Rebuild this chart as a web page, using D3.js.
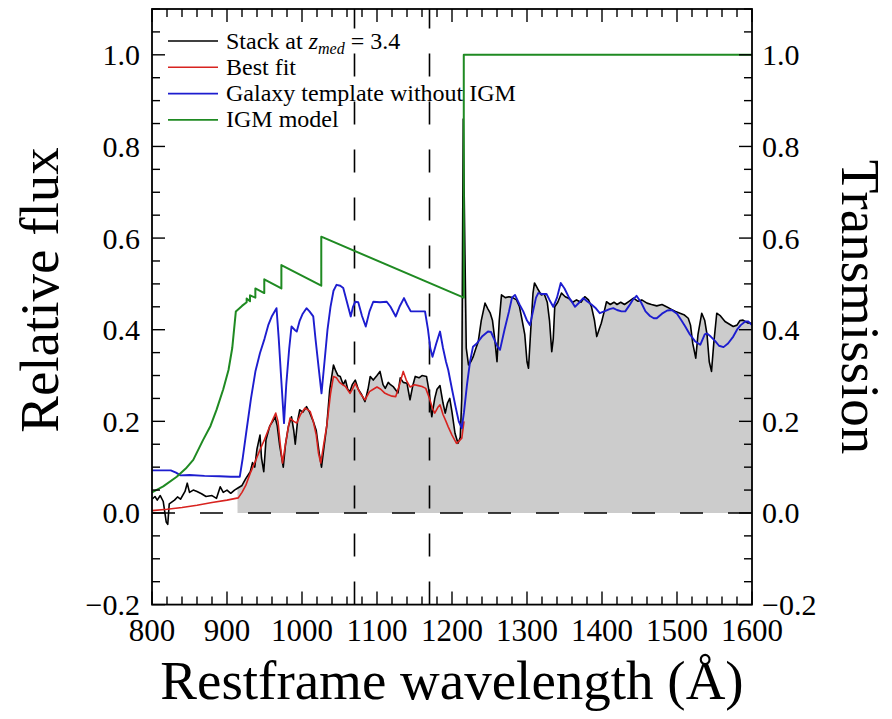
<!DOCTYPE html>
<html>
<head>
<meta charset="utf-8">
<script src="https://cdn.jsdelivr.net/npm/d3@7/dist/d3.min.js"></script>
<style>
  html, body { margin: 0; padding: 0; background: #fff; }
  svg { display: block; }
  text { font-family: "Liberation Serif", "Times New Roman", serif; fill: #000; }
</style>
</head>
<body>
<svg id="chart" width="892" height="719"></svg>
<script>
// Stacked spectrum at z_med = 3.4 : [restframe wavelength (Å), relative flux]
const stackSpectrum = [
  [800,0.03],[804,0.036],[807,0.028],[811,0.038],[815,0.025],[819,-0.02],[821,-0.025],[823,0.02],
  [830,0.028],[834,0.035],[838,0.03],[844,0.047],[847,0.065],[850,0.045],[855,0.05],[860,0.047],
  [866,0.042],[872,0.036],[880,0.038],[886,0.032],[891,0.057],[895,0.045],[900,0.05],[905,0.043],
  [910,0.05],[914,0.054],[920,0.06],[925,0.075],[931,0.09],[934,0.11],[937,0.1],[940,0.14],
  [944,0.17],[946,0.12],[949,0.09],[952,0.16],[957,0.19],[961,0.2],[964,0.21],[967,0.19],
  [970,0.15],[973,0.12],[975,0.1],[978,0.15],[982,0.19],[986,0.21],[989,0.18],[991,0.15],
  [994,0.2],[997,0.225],[1001,0.22],[1006,0.232],[1010,0.22],[1015,0.2],[1019,0.18],[1023,0.13],
  [1026,0.1],[1029,0.14],[1033,0.19],[1037,0.27],[1042,0.323],[1045,0.31],[1048,0.3],[1051,0.298],
  [1055,0.28],[1058,0.29],[1061,0.27],[1064,0.265],[1067,0.28],[1071,0.29],[1075,0.27],[1079,0.26],
  [1084,0.243],[1088,0.27],[1091,0.298],[1095,0.29],[1100,0.3],[1104,0.309],[1108,0.28],[1111,0.272],
  [1115,0.285],[1118,0.28],[1122,0.275],[1128,0.262],[1131,0.295],[1135,0.285],[1140,0.283],[1144,0.247],
  [1148,0.28],[1151,0.298],[1156,0.295],[1160,0.3],[1166,0.298],[1169,0.27],[1173,0.21],[1177,0.25],
  [1180,0.27],[1184,0.278],[1188,0.24],[1191,0.218],[1194,0.24],[1197,0.25],[1200,0.22],[1204,0.174],
  [1208,0.152],[1211,0.165],[1213,0.25],[1215,0.86],[1217,0.6],[1219,0.36],[1222,0.323],[1225,0.33],
  [1228,0.34],[1232,0.36],[1235,0.374],[1239,0.42],[1244,0.458],[1248,0.445],[1251,0.436],[1254,0.42],
  [1257,0.38],[1260,0.33],[1263,0.42],[1266,0.476],[1271,0.47],[1276,0.472],[1281,0.47],[1286,0.465],
  [1290,0.45],[1293,0.425],[1297,0.39],[1300,0.33],[1302,0.316],[1305,0.4],[1308,0.48],[1310,0.502],
  [1314,0.49],[1319,0.476],[1323,0.478],[1327,0.46],[1330,0.42],[1333,0.352],[1335,0.38],[1337,0.45],
  [1341,0.46],[1346,0.48],[1351,0.472],[1356,0.468],[1361,0.46],[1366,0.465],[1372,0.46],[1377,0.472],
  [1382,0.465],[1386,0.45],[1390,0.42],[1393,0.385],[1396,0.4],[1399,0.414],[1403,0.44],[1406,0.461],
  [1411,0.455],[1416,0.46],[1420,0.455],[1425,0.46],[1430,0.455],[1436,0.462],[1442,0.469],[1448,0.462],
  [1453,0.465],[1460,0.458],[1466,0.455],[1473,0.452],[1480,0.455],[1486,0.45],[1492,0.445],[1498,0.44],
  [1504,0.436],[1510,0.432],[1515,0.425],[1518,0.41],[1521,0.37],[1525,0.338],[1528,0.39],[1533,0.436],
  [1537,0.42],[1540,0.39],[1543,0.33],[1546,0.309],[1549,0.37],[1553,0.436],[1558,0.43],[1564,0.418],
  [1570,0.412],[1575,0.407],[1580,0.41],[1584,0.42],[1588,0.421],[1594,0.415],[1600,0.414]
];

// Best-fit model (template attenuated by the IGM)
const bestFit = [
  [800,0.005],[820,0.008],[840,0.012],[860,0.017],[880,0.023],[900,0.028],[915,0.033],[920,0.045],
  [925,0.06],[931,0.087],[937,0.11],[944,0.138],[950,0.16],[955,0.181],[960,0.2],[965,0.218],
  [968,0.2],[971,0.15],[974,0.109],[977,0.14],[981,0.18],[984,0.207],[989,0.2],[993,0.196],
  [998,0.215],[1004,0.229],[1008,0.225],[1011,0.221],[1015,0.2],[1019,0.17],[1022,0.13],[1025,0.109],
  [1029,0.15],[1033,0.19],[1038,0.26],[1042,0.298],[1046,0.295],[1050,0.285],[1054,0.28],[1058,0.276],
  [1064,0.261],[1067,0.27],[1071,0.283],[1075,0.27],[1078,0.26],[1084,0.247],[1090,0.265],[1095,0.27],
  [1100,0.275],[1105,0.27],[1110,0.262],[1115,0.258],[1120,0.255],[1125,0.254],[1130,0.28],[1135,0.309],
  [1139,0.29],[1144,0.275],[1150,0.28],[1155,0.278],[1160,0.276],[1165,0.272],[1170,0.25],[1174,0.228],
  [1177,0.218],[1181,0.23],[1184,0.236],[1188,0.215],[1192,0.2],[1195,0.188],[1200,0.17],[1206,0.152],
  [1210,0.158],[1213,0.163],[1216,0.2]
];

// Galaxy template without IGM absorption
const galaxyTemplate = [
  [800,0.093],[825,0.093],[832,0.088],[838,0.082],[850,0.083],[870,0.081],[890,0.08],[905,0.079],
  [917,0.079],[921,0.12],[926,0.18],[932,0.25],[938,0.31],[944,0.349],[950,0.38],[955,0.41],
  [960,0.43],[966,0.447],[969,0.38],[972,0.3],[976,0.196],[979,0.28],[983,0.36],[986,0.407],
  [990,0.4],[993,0.396],[997,0.42],[1001,0.435],[1006,0.447],[1010,0.44],[1015,0.429],[1018,0.38],
  [1022,0.32],[1026,0.261],[1030,0.33],[1034,0.4],[1038,0.45],[1042,0.485],[1046,0.498],[1051,0.496],
  [1055,0.491],[1060,0.46],[1065,0.429],[1068,0.45],[1071,0.461],[1075,0.46],[1080,0.43],[1085,0.407],
  [1090,0.44],[1095,0.461],[1104,0.46],[1113,0.461],[1118,0.45],[1125,0.429],[1130,0.45],[1136,0.469],
  [1140,0.455],[1145,0.44],[1155,0.44],[1164,0.44],[1168,0.4],[1171,0.36],[1174,0.341],[1179,0.37],
  [1184,0.396],[1188,0.36],[1192,0.33],[1195,0.312],[1200,0.27],[1205,0.23],[1209,0.2],[1213,0.185],
  [1216,0.22],[1220,0.28],[1224,0.33],[1228,0.363],[1233,0.37],[1240,0.385],[1248,0.396],[1252,0.395],
  [1256,0.38],[1260,0.365],[1264,0.356],[1270,0.4],[1276,0.44],[1280,0.47],[1284,0.476],[1290,0.455],
  [1295,0.44],[1300,0.42],[1304,0.41],[1308,0.44],[1312,0.47],[1315,0.48],[1320,0.478],[1326,0.478],
  [1330,0.465],[1335,0.45],[1340,0.47],[1345,0.502],[1350,0.49],[1356,0.47],[1361,0.458],[1364,0.45],
  [1370,0.46],[1375,0.469],[1380,0.462],[1386,0.455],[1391,0.448],[1397,0.436],[1403,0.44],[1410,0.445],
  [1415,0.447],[1420,0.443],[1426,0.44],[1431,0.44],[1436,0.452],[1441,0.465],[1446,0.474],[1452,0.46],
  [1458,0.44],[1464,0.43],[1469,0.425],[1473,0.425],[1480,0.435],[1487,0.442],[1493,0.443],[1500,0.435],
  [1506,0.42],[1511,0.407],[1517,0.39],[1524,0.375],[1531,0.367],[1537,0.39],[1540,0.392],[1545,0.385],
  [1551,0.375],[1556,0.365],[1562,0.362],[1568,0.37],[1575,0.385],[1580,0.4],[1585,0.41],[1591,0.418],
  [1595,0.418],[1600,0.41]
];

// IGM transmission model (Lyman-series steps)
const igmModel = [
  [800,0.045],[815,0.058],[833,0.079],[845,0.097],[855,0.116],[868,0.159],[878,0.19],[886,0.225],
  [895,0.27],[902,0.312],[907,0.36],[911.8,0.44],[920,0.452],[926.2,0.46],[926.2,0.468],[930.7,0.462],
  [930.7,0.475],[937.8,0.47],[937.8,0.49],[949.7,0.48],[949.7,0.51],[972.5,0.49],[972.5,0.541],
  [1025.7,0.496],[1025.7,0.603],[1215.7,0.47],[1215.7,1.0],[1600,1.0]
];

// Lyman-alpha forest window boundaries (Å)
const forestWindow = [1070, 1170];
// Wavelength where the shaded stack area begins (Lyman limit)
const shadeStart = 912;

const xTicks = [800, 900, 1000, 1100, 1200, 1300, 1400, 1500, 1600];
const yTicks = [-0.2, 0.0, 0.2, 0.4, 0.6, 0.8, 1.0];

const legendEntries = [
  { key: "stack", color: "#000000" },
  { key: "fit", label: "Best fit", color: "#d8231f" },
  { key: "template", label: "Galaxy template without IGM", color: "#1d1dcf" },
  { key: "igm", label: "IGM model", color: "#1f8a22" }
];

const plot = { left: 152, right: 752, top: 9, bottom: 604.6 };

const svg = d3.select("#chart");
const x = d3.scaleLinear().domain([800, 1600]).range([plot.left, plot.right]);
const y = d3.scaleLinear().domain([-0.2, 1.1]).range([plot.bottom, plot.top]);

svg.append("defs").append("clipPath").attr("id", "plotClip")
  .append("rect")
  .attr("x", plot.left).attr("y", plot.top)
  .attr("width", plot.right - plot.left).attr("height", plot.bottom - plot.top);

const g = svg.append("g").attr("clip-path", "url(#plotClip)");

// Shaded area under the stacked spectrum
const shaded = stackSpectrum.filter(d => d[0] >= shadeStart);
g.append("path")
  .datum(shaded)
  .attr("fill", "#cccccc")
  .attr("d", d3.area().x(d => x(d[0])).y0(y(0)).y1(d => y(d[1])));

// Zero level
g.append("line")
  .attr("x1", x(800)).attr("x2", x(1600))
  .attr("y1", y(0)).attr("y2", y(0))
  .attr("stroke", "#000").attr("stroke-width", 1.6)
  .attr("stroke-dasharray", "23,25");

// Forest window markers (drawn bottom to top)
forestWindow.forEach(w => {
  g.append("line")
    .attr("x1", x(w)).attr("x2", x(w))
    .attr("y1", plot.bottom).attr("y2", plot.top)
    .attr("stroke", "#000").attr("stroke-width", 1.6)
    .attr("stroke-dasharray", "23,25");
});

const line = d3.line().x(d => x(d[0])).y(d => y(d[1]));

g.append("path").datum(stackSpectrum)
  .attr("fill", "none").attr("stroke", legendEntries[0].color)
  .attr("stroke-width", 1.6).attr("stroke-linejoin", "round").attr("d", line);
g.append("path").datum(bestFit)
  .attr("fill", "none").attr("stroke", legendEntries[1].color)
  .attr("stroke-width", 1.6).attr("stroke-linejoin", "round").attr("d", line);
g.append("path").datum(galaxyTemplate)
  .attr("fill", "none").attr("stroke", legendEntries[2].color)
  .attr("stroke-width", 1.9).attr("stroke-linejoin", "round").attr("d", line);
g.append("path").datum(igmModel)
  .attr("fill", "none").attr("stroke", legendEntries[3].color)
  .attr("stroke-width", 2).attr("stroke-linejoin", "round").attr("d", line);

// Frame
svg.append("rect")
  .attr("x", plot.left).attr("y", plot.top)
  .attr("width", plot.right - plot.left).attr("height", plot.bottom - plot.top)
  .attr("fill", "none").attr("stroke", "#000").attr("stroke-width", 1.8);

// Inward ticks on all four sides
const xMinor = d3.range(800, 1601, 20);
const yMinor = d3.range(-0.2, 1.1001, 0.05).map(v => +v.toFixed(2));
const isMajorX = v => v % 100 === 0;
const isMajorY = v => Math.abs(Math.round(v * 5) - v * 5) < 1e-6;

const ticks = svg.append("g").attr("stroke", "#000").attr("stroke-width", 1.4);
xMinor.forEach(v => {
  const len = isMajorX(v) ? 13 : 8;
  const px = x(v);
  ticks.append("line").attr("x1", px).attr("x2", px).attr("y1", plot.bottom).attr("y2", plot.bottom - len);
  ticks.append("line").attr("x1", px).attr("x2", px).attr("y1", plot.top).attr("y2", plot.top + len);
});
yMinor.forEach(v => {
  const len = isMajorY(v) ? 13 : 8;
  const py = y(v);
  ticks.append("line").attr("x1", plot.left).attr("x2", plot.left + len).attr("y1", py).attr("y2", py);
  ticks.append("line").attr("x1", plot.right).attr("x2", plot.right - len).attr("y1", py).attr("y2", py);
});

const fmt = v => (v < 0 ? "\u2212" : "") + Math.abs(v).toFixed(1);

// Tick labels
svg.append("g").selectAll("text").data(xTicks).join("text")
  .attr("x", d => x(d)).attr("y", 641)
  .attr("text-anchor", "middle").attr("font-size", 31)
  .text(d => d);
svg.append("g").selectAll("text").data(yTicks).join("text")
  .attr("x", 140).attr("y", d => y(d)).attr("dy", "0.35em")
  .attr("text-anchor", "end").attr("font-size", 30)
  .text(fmt);
svg.append("g").selectAll("text").data(yTicks).join("text")
  .attr("x", 762).attr("y", d => y(d)).attr("dy", "0.35em")
  .attr("text-anchor", "start").attr("font-size", 30)
  .text(fmt);

// Axis titles
svg.append("text")
  .attr("transform", "translate(58,290) rotate(-90)")
  .attr("text-anchor", "middle").attr("font-size", 55)
  .text("Relative flux");
svg.append("text")
  .attr("transform", "translate(842,307) rotate(90)")
  .attr("text-anchor", "middle").attr("font-size", 55)
  .text("Transmission");
svg.append("text")
  .attr("x", 452).attr("y", 699)
  .attr("text-anchor", "middle").attr("font-size", 55)
  .text("Restframe wavelength (\u00C5)");

// Legend
const legend = svg.append("g");
legendEntries.forEach((e, i) => {
  const ly = 41 + i * 26.3;
  legend.append("line")
    .attr("x1", 168).attr("x2", 218).attr("y1", ly).attr("y2", ly)
    .attr("stroke", e.color).attr("stroke-width", 1.6);
  const t = legend.append("text").attr("x", 226).attr("y", ly + 7.5).attr("font-size", 24);
  if (e.key === "stack") {
    t.append("tspan").text("Stack at ");
    t.append("tspan").attr("font-style", "italic").text("z");
    t.append("tspan").attr("font-style", "italic").attr("font-size", 16).attr("dy", 5).text("med");
    t.append("tspan").attr("dy", -5).text(" = 3.4");
  } else {
    t.text(e.label);
  }
});
</script>
</body>
</html>
